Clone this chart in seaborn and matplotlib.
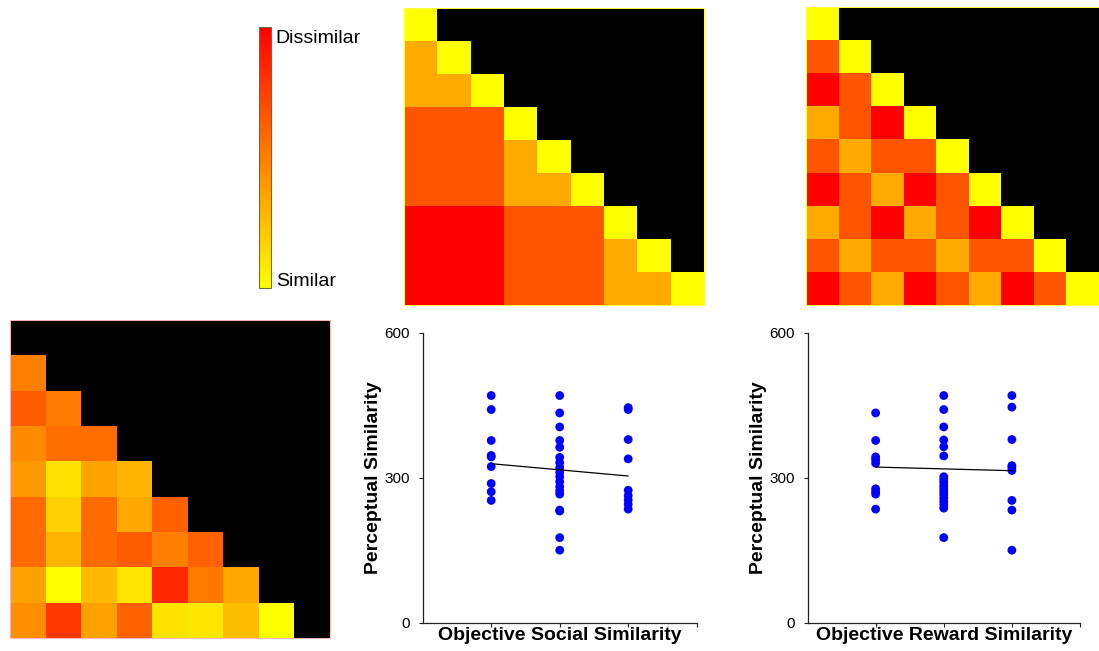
import numpy as np
import pandas as pd
import matplotlib
matplotlib.use("Agg")
import matplotlib.pyplot as plt
import seaborn as sns

# ---------------- data ----------------
# lower-triangle rows of the objective similarity matrices (0 = similar ... 3 = dissimilar)
social_rows = [[0], [1, 0], [1, 1, 0], [2, 2, 2, 0], [2, 2, 2, 1, 0], [2, 2, 2, 1, 1, 0],
               [3, 3, 3, 2, 2, 2, 0], [3, 3, 3, 2, 2, 2, 1, 0], [3, 3, 3, 2, 2, 2, 1, 1, 0]]
reward_rows = [[0], [2, 0], [3, 2, 0], [1, 2, 3, 0], [2, 1, 2, 2, 0], [3, 2, 1, 3, 2, 0],
               [1, 2, 3, 1, 2, 3, 0], [2, 1, 2, 2, 1, 2, 2, 0], [3, 2, 1, 3, 2, 1, 3, 2, 0]]
# perceptual dissimilarity (0 = similar, 1 = dissimilar), strictly lower triangle
perceptual_rows = [[], [0.50], [0.64, 0.52], [0.46, 0.57, 0.57], [0.40, 0.12, 0.36, 0.29],
                   [0.58, 0.18, 0.58, 0.34, 0.62], [0.58, 0.29, 0.58, 0.64, 0.50, 0.62],
                   [0.37, 0.00, 0.27, 0.10, 0.84, 0.53, 0.34],
                   [0.44, 0.78, 0.37, 0.62, 0.11, 0.10, 0.26, 0.00]]

social_levels = [1, 2, 3]
social_values = [
    [470, 441, 377, 346, 343, 323, 288, 271, 253],
    [470, 434, 405, 377, 363, 342, 331, 321, 311, 302, 292, 281, 273, 266, 233, 231, 176, 150],
    [445, 441, 379, 339, 274, 263, 254, 245, 235],
]
social_trend = [329, 303.5]

reward_levels = [1, 2, 3]
reward_values = [
    [434, 377, 343, 337, 330, 277, 271, 266, 235],
    [470, 441, 405, 378, 364, 345, 302, 296, 290, 283, 277, 271, 265, 258, 251, 244, 237, 176],
    [470, 446, 379, 325, 321, 315, 253, 233, 150],
]
reward_trend = [322, 314.5]

cbar_labels = ["Dissimilar", "Similar"]
y_ticks = [0, 300, 600]

# ---------------- style ----------------
sns.set_style("ticks")
plt.rcParams["font.family"] = ["Liberation Sans", "DejaVu Sans"]
plt.rcParams["text.color"] = "black"
plt.rcParams["axes.labelcolor"] = "black"

W, H = 1099, 651
fig = plt.figure(figsize=(W / 100, H / 100), dpi=100)


def ax_px(l, t, w, h):
    return fig.add_axes([l / W, 1 - (t + h) / H, w / W, h / H])


def tri_matrix(rows, n=9):
    m = np.full((n, n), np.nan)
    for i, r in enumerate(rows):
        for j, v in enumerate(r):
            m[i, j] = v
    return pd.DataFrame(m)


def draw_matrix(ax, rows, vmax, edge, cbar_ax=None):
    df = tri_matrix(rows)
    sns.heatmap(df, mask=df.isna(), cmap="autumn_r", vmin=0, vmax=vmax, ax=ax,
                cbar=cbar_ax is not None, cbar_ax=cbar_ax,
                xticklabels=False, yticklabels=False, linewidths=0)
    ax.set_facecolor("black")
    for s in ax.spines.values():
        s.set_visible(True)
        s.set_color(edge)
        s.set_linewidth(0.7)
    ax.set_xlabel("")
    ax.set_ylabel("")


# colorbar + social matrix
cax = ax_px(259, 27, 11.5, 261)
ax_soc = ax_px(404, 8, 300, 297)
draw_matrix(ax_soc, social_rows, 3, "#FFFF40", cbar_ax=cax)
cax.set_yticks([0.41, 0.82, 1.23, 1.64, 2.05, 2.46, 2.87])
cax.tick_params(axis="y", direction="in", length=2.5, width=0.6, colors="#555555",
                labelright=False, right=True, left=False)
cbar = ax_soc.collections[0].colorbar
cbar.outline.set_edgecolor("#6b6b40")
cbar.outline.set_linewidth(0.8)
cax.text(1.45, 2.87, cbar_labels[0], transform=cax.get_yaxis_transform(),
         fontsize=14, va="center", ha="left", color="black")
cax.text(1.45, 0.07, cbar_labels[1], transform=cax.get_yaxis_transform(),
         fontsize=14, va="center", ha="left", color="black")

# reward matrix
ax_rew = ax_px(806, 7, 293, 298)
draw_matrix(ax_rew, reward_rows, 3, "#FFFF40")

# perceptual matrix
ax_per = ax_px(10, 320, 320, 318)
draw_matrix(ax_per, perceptual_rows, 1, "#FFB8B8")


def scatter_panel(ax, levels, values, trend, xlabel):
    df = pd.DataFrame({
        "level": np.concatenate([[lv] * len(v) for lv, v in zip(levels, values)]),
        "value": np.concatenate(values),
    })
    sns.scatterplot(data=df, x="level", y="value", ax=ax, color="#0000FF", s=40,
                    edgecolor="none", linewidth=0, zorder=3)
    sns.lineplot(x=[levels[0], levels[-1]], y=trend, ax=ax, color="black", lw=0.9, zorder=4)
    ax.set_xlim(0, 4)
    ax.set_ylim(0, 600)
    ax.set_yticks(y_ticks)
    ax.set_yticklabels([str(t) for t in y_ticks], fontsize=11)
    ax.set_xticks([1, 2, 3, 4])
    ax.set_xticklabels([])
    ax.tick_params(axis="both", direction="out", length=3.1, width=0.8, colors="#222222",
                   labelcolor="black")
    ax.tick_params(axis="y", pad=6)
    ax.tick_params(axis="x", pad=0)
    for side in ["top", "right"]:
        ax.spines[side].set_visible(False)
    for side in ["left", "bottom"]:
        ax.spines[side].set_color("#222222")
        ax.spines[side].set_linewidth(0.9)
    ax.set_xlabel(xlabel, fontsize=14, fontweight="bold", labelpad=0)
    ax.set_ylabel("Perceptual Similarity", fontsize=14, fontweight="bold", labelpad=2)
    ax.set_facecolor("white")


ax_s1 = ax_px(422.7, 332.7, 274, 290)
scatter_panel(ax_s1, social_levels, social_values, social_trend, "Objective Social Similarity")
ax_s2 = ax_px(807.5, 332.7, 272.5, 290)
scatter_panel(ax_s2, reward_levels, reward_values, reward_trend, "Objective Reward Similarity")

fig.savefig("out.png", dpi=100, facecolor="white")
